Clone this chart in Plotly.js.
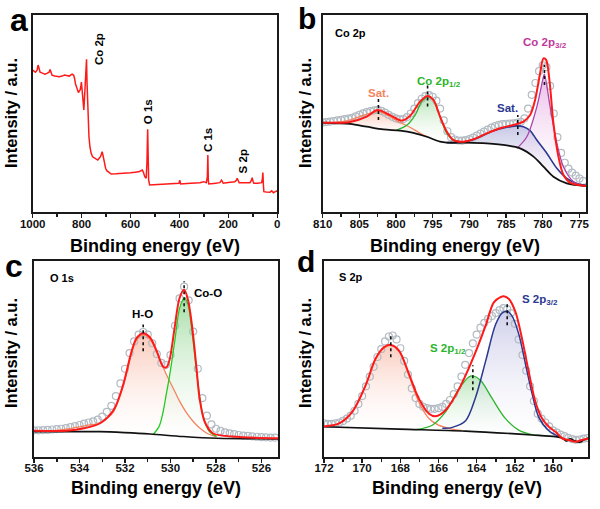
<!DOCTYPE html>
<html><head><meta charset="utf-8">
<script src="https://cdn.plot.ly/plotly-3.0.1.min.js"></script>
<style>html,body{margin:0;padding:0;background:#fff}#chart{width:600px;height:509px}</style>
</head><body><div id="chart"></div>
<script>
// ---------- Panel a: survey ----------
const aBE  = [1000,995,989,982,978,974,970,960,950,940,933,929,925,921,910,900,891,880,870,862,850,845,839,833,829,825,822,817,813,809,806,803,801,798,795,793,791,789,786,783,780,778,776,773,770,766,761,755,747,740,734,728,723,719,716,713,709,705,702,697,693,685,679,660,640,617,600,580,563,557,552,547,542,536,533,530,528,526,522,510,490,470,454,430,402,399,395,370,340,317,301,295,290,286,284,282,280,260,240,235,228,221,200,185,174,168,164,160,156,140,125,112,106,103,99,96,80,71,64,61,59,57,55,45,30,23,16,8,0];
const aInt = [72,71.5,71,72,74.6,73,71,70.5,70,70.5,71,72.4,70,69.5,69,68.8,68.7,69,69.5,69.3,69,69.5,70,69.5,67.9,65,63.6,62,60.6,61.5,62,64,66,62,58.5,54,51.8,56,62,68,77.5,66,56.9,46,38.2,33,29.8,28,27.2,26.8,26.4,27.2,28.1,29.5,30.6,29,26.4,23.5,22.2,21,20.5,19.8,19.3,19.4,19.5,19.6,19.9,20.2,20.5,21,21.3,20,17.9,17.1,25,42,20,16.2,13.7,13.9,14,14.1,14.2,14.4,14.6,16.2,14.2,14.5,14.7,14.9,15.4,15,14.9,18,28.9,16,14.2,14.5,14.8,14.9,16.2,14.6,15,15.2,15.4,16,17.1,16,14.9,14.9,15,14.9,16,17.4,15.5,14.6,14.6,14.6,14.9,17,20,14,10.3,10.1,10,10.8,9.8,10.3,10.8];
const aLabels = ['Co 2p','O 1s','C 1s','S 2p'];
const aLabelBE = [729,530.7,283.4,141.9];
const aLabelInt = [82.7,50.9,36.5,25.5];

// ---------- Panel b: Co 2p ----------
const bDataBE  = [810,809.5,809,808.5,808,807.5,807,806.5,806,805.5,805,804.5,804,803.5,803,802.5,802,801.5,801,800.5,800,799.5,799,798.5,798,797.5,797,796.5,796,795.5,795,794.5,794,793.5,793,792.5,792,791.5,791,790.5,790,789.5,789,788.5,788,787.5,787,786.5,786,785.5,785,784.5,784,783.5,783,782.5,782,781.5,781,780.5,780,779.5,779,778.5,778,777.5,777,776.5,776,775.5,775,774.5];
const bDataInt = [45.5,45.7,45.9,46.2,46.5,46.8,47.1,47.4,47.8,48.5,49.3,50.1,50.7,51.2,51.6,51.8,51.3,50.4,49.3,48.3,47.5,47,47.2,48.2,50,52.5,55.3,57.5,58.8,59.3,58.5,56.5,52.5,46.5,41,38,36.8,36.3,36.2,36.5,37,37.8,38.8,39.8,40.8,41.8,42.8,43.6,44.2,44.6,44.8,44.9,45,45.3,45.8,47.5,52.5,59.5,65.5,71.5,74.5,73.5,64,50,38,30,25,22,20,18.5,17,15.8];
const bFitBE  = [810,806.28,804,802.55,800.82,799.23,798.1,796.73,795.73,794.91,794,793.09,792.18,790.82,789.45,787.63,785.81,783.99,782.63,781.72,781.04,780.36,779.9,779.54,779.09,778.54,777.86,777.17,776.26,774.1];
const bFitInt = [45.3,45.7,48.4,51.8,49.2,46.4,48.7,56,58.9,56.9,48.4,40.8,36.5,35.7,36.9,39.9,42.5,44.2,45.9,49.2,56.9,70.4,78,77.2,67,45,28.1,18.8,14.9,13.2];
const bBgBE  = [810,806.28,804,801.73,799.46,797.64,795.82,794,793.09,790.36,787.63,784.9,783.08,781.26,779.9,778.54,776.72,774.1];
const bBgInt = [45.3,44.7,43.3,41.9,41.3,40.2,38.2,35.7,35.2,35.2,34.8,33.8,32.3,28.1,23,17.9,14.5,13.2];
const bSatABE   = [810,808,806.3,804.5,803.3,802.4,801.3,799.9,798.1,796.7,795.6];
const bSatAInt  = [45.3,45.6,46.7,49,50.5,51,49.5,46.3,43,40,38];
const bSatABase = [45.3,45,44.7,43.6,42.8,42.2,41.8,41.4,40.5,39.2,38];
const bP12BE   = [799.9,798.5,797.4,796.5,795.7,794.9,794,793.1,792.2,791.3];
const bP12Int  = [41.6,44.2,49.2,56,58.5,56.9,48.4,40,36.5,35.7];
const bP12Base = [41.4,40.9,40.2,39.2,38.1,36.8,35.7,35.2,35.2,35.2];
const bSatBBE   = [793.09,790.36,788.54,786.72,784.9,783.54,782.63,781.72,780.81,779.45,778.08,776.72,775.35,774.1];
const bSatBInt  = [35.2,35.7,38.2,41.3,43,43.7,43.3,41.3,36.5,29.8,22.2,17.1,14.5,13.5];
const bSatBBase = [35.2,35.2,35,34.6,33.8,32.8,31.4,29.5,26.5,21.5,16.8,14.5,13.6,13.2];
const bP32BE   = [783.53,782.17,780.8,779.9,779.77,779,778.08,777.18,775.8,774.1];
const bP32Int  = [32.3,38.2,53.5,68.7,70,53.5,34.9,23,15.4,13.2];
const bP32Base = [32.8,30.8,26.5,23,22.6,20,16.8,15,13.8,13.2];
const bDropBE = [802.4,795.7,783.4,779.77];
const bDropLo = [46.7,53.5,39.1,64.5];
const bDropHi = [57.7,65.3,49.2,74.6];

// ---------- Panel c: O 1s ----------
const cDataBE  = [536,535.8,535.6,535.4,535.2,535,534.8,534.6,534.4,534.2,534,533.8,533.6,533.4,533.2,533,532.8,532.6,532.4,532.2,532,531.8,531.6,531.4,531.2,531,530.8,530.6,530.4,530.2,530,529.8,529.6,529.4,529.2,529,528.8,528.6,528.4,528.2,528,527.8,527.6,527.4,527.2,527,526.8,526.6,526.4,526.2,526,525.8,525.6,525.4];
const cDataInt = [13.5,13.5,13.6,13.7,13.9,14.1,14.3,14.6,15.1,15.6,16.2,16.9,17.5,18.1,19,20.5,22.9,26,31,37.5,45,53,59,62.5,63.8,62.5,58,52.5,48,47,52,67,81,87,80,64,45,30,21,16.5,14.3,13.2,12.4,11.9,11.5,11.1,10.8,10.6,10.4,10.2,10,9.9,9.8,9.7];
const cFitBE  = [536,534.56,533.8,533.1,532.5,532.08,531.71,531.49,531.2,530.9,530.6,530.33,530.18,530.04,529.82,529.6,529.4,529.23,529.04,528.87,528.72,528.5,528.14,527.26,525.26];
const cFitInt = [13.3,13.3,14.5,17.1,23.9,36.8,53.9,60.7,63.2,61,53.9,46.2,45.7,49.6,65.8,81.2,85.4,80.3,65.8,47,29.9,18,12,10.3,9.4];
const cBgBE  = [536,534,533.1,532,530.9,529.44,527.97,525.26];
const cBgInt = [12.8,12.8,12.8,12.3,11.6,10.3,9.4,9.1];
const cHOBE   = [536,535,534.5,534,533.5,533.1,532.8,532.5,532.3,532.08,531.9,531.71,531.49,531.2,530.9,530.6,530.18,529.9,529.6,529.3,529,528.7,528.4,528];
const cHOInt  = [13.2,13.5,14.2,15.3,16.4,17,19.5,23.1,28.5,36,44,53,59.9,62.4,60,53.5,42,35.5,28.4,22.5,18,14.5,12,10.3];
const cHOBase = [12.8,12.8,12.8,12.8,12.8,12.8,12.7,12.6,12.5,12.4,12.3,12.2,12,11.8,11.6,11.3,10.9,10.6,10.4,10.1,9.9,9.7,9.5,9.4];
const cCoOBE   = [530.75,530.5,530.33,530.2,530.04,529.82,529.6,529.45,529.38,529.23,529.02,528.8,528.58,528.29,527.97];
const cCoOInt  = [11.5,15.5,22.6,31,41.4,58.5,76,80.3,81.2,77.8,60.7,38.5,21.4,12.8,10.3];
const cCoOBase = [11.4,11.2,11,10.9,10.8,10.6,10.4,10.3,10.2,10.1,9.9,9.8,9.6,9.5,9.4];
const cDropBE = [531.2,529.4];
const cDropLo = [53.9,73.9];
const cDropHi = [67.6,89.8];

// ---------- Panel d: S 2p ----------
const dDataBE  = [172,171.8,171.6,171.4,171.2,171,170.8,170.6,170.4,170.2,170,169.8,169.6,169.4,169.2,169,168.8,168.6,168.4,168.2,168,167.8,167.6,167.4,167.2,167,166.8,166.6,166.4,166.2,166,165.8,165.6,165.4,165.2,165,164.8,164.6,164.4,164.2,164,163.8,163.6,163.4,163.2,163,162.8,162.6,162.4,162.2,162,161.8,161.6,161.4,161.2,161,160.8,160.6,160.4,160.2,160,159.8,159.6,159.4,159.2,159,158.8,158.6,158.4,158.2];
const dDataInt = [17,16.8,16.8,17,17.5,18.3,19.5,21,23.5,27,31,36,41,46,51,55,59,61.5,62,60,55.5,49,42,35,30,27,25.5,24.8,24.5,24.5,24.8,25.5,27,29,32,36,41,47,53,58,62.5,66,68.5,70.5,72,73.5,75,76,75.5,73.5,68,60,52,44,36,28.5,22,19.5,17.5,15.5,13.5,12.3,11.3,10.5,9.6,9,8.6,8.8,9.2,9.5];
const dFitBE  = [172,171.21,170.52,169.82,169.3,168.86,168.51,168.07,167.55,167.03,166.5,166.15,165.63,165.1,164.58,164.06,163.53,163.1,162.75,162.58,162.31,161.96,161.62,161.27,160.92,160.57,160.22,159.87,159.5,159.17,158.82,158.5,158.15];
const dFitInt = [15.5,17,22.9,36.5,50.1,56,57.2,54.3,42.4,29.7,22,20.7,23.8,31.4,41.6,53.5,67.1,79,81.6,82.1,80.7,73.9,60.3,43.3,28,19.5,15.3,12.7,9.3,8.5,7.6,8.5,9.3];
const dBgBE  = [172,168.07,164.58,161.09,159.87,159.5,159.3,159.1,158.9,158.6,158.4,158.15];
const dBgInt = [15.3,14.1,13.1,11.1,10.2,9.5,8,9.2,8.3,7.4,8.5,9.5];
const dSABE   = [172,171.2,170.52,169.82,169.3,168.86,168.51,168.07,167.55,167.03,166.5,166,165.28,164.8];
const dSAInt  = [15.5,17,22.9,36.5,50,55.5,57,54,41.6,28,19.5,16.1,14.1,13.4];
const dSABase = [15.3,15.1,14.8,14.6,14.5,14.3,14.2,14.1,14,13.8,13.6,13.5,13.3,13.2];
const dS12BE   = [167.2,166.33,165.63,164.93,164.41,164.2,163.8,163.19,162.5,161.8,161.1,160.6];
const dS12Int  = [13.8,16.1,22.9,34.7,40.8,41.3,39.1,29.8,19.6,13.6,11.3,10.8];
const dS12Base = [13.8,13.6,13.4,13.2,13,12.9,12.7,12.4,12,11.5,11.1,10.7];
const dS32BE   = [165.8,165.28,164.58,164.06,163.53,163.01,162.66,162.4,162.14,161.79,161.44,161.09,160.74,160.22,159.7];
const dS32Int  = [14.5,15,18.4,30.3,48.9,67.6,73.6,74.4,71.9,62.6,47.3,32,20.1,13.3,10.4];
const dS32Base = [13.4,13.3,13.1,12.9,12.6,12.3,12.1,12,11.8,11.5,11.3,11.1,10.8,10.5,10.1];
const dDropBE = [168.5,164.2,162.4];
const dDropLo = [50.9,34,67.2];
const dDropHi = [62.9,46.8,79.1];

// ---------- styles ----------
const FONT = 'Liberation Sans, Arial, Helvetica, sans-serif';
const RED = '#ff1a1a', BLACK = '#111111', CIRC = '#b2bac2';
const ORANGE = '#f4845f', GREEN = '#2cb52c', NAVY = '#2b3990', PURPLE = '#a845a8';

const traces = [];
function area(xa, ya, x, y, base, lineColor, fillTop) {
  traces.push({x: x.concat(x.slice().reverse()), y: y.concat(base.slice().reverse()),
    xaxis: xa, yaxis: ya, mode: 'lines', line: {width: 0, color: 'rgba(0,0,0,0)'},
    fill: 'toself', fillcolor: fillTop,
    fillgradient: {type: 'vertical', colorscale: [[0, 'rgba(255,255,255,0.15)'], [1, fillTop]]},
    hoverinfo: 'skip'});
}
function compLine(xa, ya, x, y, c, w) {
  traces.push({x, y, xaxis: xa, yaxis: ya, mode: 'lines', line: {color: c, width: w || 1.5, shape: 'spline', smoothing: 0.9}});
}
function circles(xa, ya, x, y) {
  traces.push({x, y, xaxis: xa, yaxis: ya, mode: 'markers',
    marker: {symbol: 'circle-open', size: 7, color: CIRC, line: {width: 1.2, color: CIRC}}});
}
function drops(xa, ya, X, lo, hi) {
  const x = [], y = [];
  X.forEach((v, i) => { x.push(v, v, null); y.push(lo[i], hi[i], null); });
  traces.push({x, y, xaxis: xa, yaxis: ya, mode: 'lines', line: {color: BLACK, width: 1.6, dash: 'dot'}});
}

// panel a
traces.push({x: aBE, y: aInt, xaxis: 'x', yaxis: 'y', mode: 'lines', line: {color: RED, width: 1.5}});

// panel b
area('x2','y2', bSatABE, bSatAInt, bSatABase, ORANGE, 'rgba(246,160,130,0.55)');
area('x2','y2', bP12BE, bP12Int, bP12Base, GREEN, 'rgba(120,205,120,0.55)');
area('x2','y2', bSatBBE, bSatBInt, bSatBBase, NAVY, 'rgba(130,130,200,0.45)');
area('x2','y2', bP32BE, bP32Int, bP32Base, PURPLE, 'rgba(220,140,215,0.6)');
circles('x2','y2', bDataBE, bDataInt);
compLine('x2','y2', bSatABE, bSatAInt, ORANGE, 1.3);
compLine('x2','y2', bP12BE, bP12Int, GREEN, 1.3);
compLine('x2','y2', bSatBBE, bSatBInt, NAVY, 1.6);
compLine('x2','y2', bP32BE, bP32Int, PURPLE, 1.3);
compLine('x2','y2', bBgBE, bBgInt, BLACK, 1.8);
compLine('x2','y2', bFitBE, bFitInt, RED, 2);
drops('x2','y2', bDropBE, bDropLo, bDropHi);

// panel c
area('x3','y3', cHOBE, cHOInt, cHOBase, ORANGE, 'rgba(246,165,140,0.6)');
area('x3','y3', cCoOBE, cCoOInt, cCoOBase, GREEN, 'rgba(110,200,110,0.6)');
circles('x3','y3', cDataBE, cDataInt);
compLine('x3','y3', cHOBE, cHOInt, ORANGE, 1.3);
compLine('x3','y3', cCoOBE, cCoOInt, '#22cc22', 1.3);
compLine('x3','y3', cBgBE, cBgInt, BLACK, 1.6);
compLine('x3','y3', cFitBE, cFitInt, RED, 2);
drops('x3','y3', cDropBE, cDropLo, cDropHi);

// panel d
area('x4','y4', dSABE, dSAInt, dSABase, ORANGE, 'rgba(246,165,140,0.55)');
area('x4','y4', dS12BE, dS12Int, dS12Base, GREEN, 'rgba(120,205,120,0.5)');
area('x4','y4', dS32BE, dS32Int, dS32Base, NAVY, 'rgba(150,150,210,0.45)');
circles('x4','y4', dDataBE, dDataInt);
compLine('x4','y4', dSABE, dSAInt, ORANGE, 1.3);
compLine('x4','y4', dS12BE, dS12Int, GREEN, 1.3);
compLine('x4','y4', dS32BE, dS32Int, NAVY, 1.5);
compLine('x4','y4', dBgBE, dBgInt, BLACK, 1.6);
compLine('x4','y4', dFitBE, dFitInt, RED, 2);
drops('x4','y4', dDropBE, dDropLo, dDropHi);

function xax(domain, range, dtick, minorDtick, anchor) {
  return {domain, range, anchor, showgrid: false, zeroline: false, showline: true, mirror: true,
    linecolor: '#1a1a1a', linewidth: 2, ticks: 'outside', ticklen: 4, tickwidth: 1.5, tickcolor: '#1a1a1a',
    ticklabelstandoff: -4,
    dtick, tick0: 0, tickfont: {family: FONT, size: 11.5, weight: 'bold', color: '#111'},
    minor: {ticks: 'outside', ticklen: 3, tickwidth: 1.5, dtick: minorDtick, tickcolor: '#1a1a1a'}};
}
function yax(domain, anchor) {
  return {domain, range: [0, 100], anchor, showgrid: false, zeroline: false, showline: true, mirror: true,
    linecolor: '#1a1a1a', linewidth: 2, ticks: '', showticklabels: false, fixedrange: true};
}

const domTop = [0.5835, 0.9705], domBot = [0.1028, 0.4867];
const layout = {
  width: 600, height: 509, margin: {l: 0, r: 0, t: 0, b: 0},
  paper_bgcolor: '#fff', plot_bgcolor: '#fff', showlegend: false,
  font: {family: FONT, color: '#111'},
  xaxis:  xax([0.0545, 0.4622], [1000, 0], 200, 100, 'y'),
  yaxis:  yax(domTop, 'x'),
  xaxis2: xax([0.5378, 0.9767], [810, 774.1], 5, 2.5, 'y2'),
  yaxis2: yax(domTop, 'x2'),
  xaxis3: xax([0.0567, 0.4638], [536, 525.26], 2, 1, 'y3'),
  yaxis3: yax(domBot, 'x3'),
  xaxis4: xax([0.54, 0.9805], [172, 158.15], 2, 1, 'y4'),
  yaxis4: yax(domBot, 'x4'),
  annotations: []
};
const A = layout.annotations;
function pl(text, x, y, size, extra) {
  A.push(Object.assign({text, x: x / 600, y: 1 - y / 509, xref: 'paper', yref: 'paper', showarrow: false,
    xanchor: 'center', yanchor: 'middle', font: {family: FONT, size, weight: 'bold', color: '#000'}}, extra || {}));
}
// panel letters
pl('a', 19, 20, 32); pl('b', 307, 19, 30); pl('c', 14, 266, 32); pl('d', 306, 261, 30);
// axis titles
['Binding energy (eV)'].forEach(t => {
  pl(t, 155, 246, 18); pl(t, 455, 246, 18); pl(t, 156, 488, 18); pl(t, 457, 488, 18);
});
['Intensity / a.u.'].forEach(t => {
  pl(t, 11, 113, 16.5, {textangle: -90}); pl(t, 305, 113, 16.5, {textangle: -90});
  pl(t, 11, 353, 16.5, {textangle: -90}); pl(t, 305, 353, 16.5, {textangle: -90});
});
function dl(text, xr, yr, x, y, color, size, extra) {
  A.push(Object.assign({text, x, y, xref: xr, yref: yr, showarrow: false, xanchor: 'center', yanchor: 'middle',
    font: {family: FONT, size: size || 11, weight: 'bold', color}}, extra || {}));
}
aLabels.forEach((t, i) => dl(t, 'x', 'y', aLabelBE[i], aLabelInt[i], '#000', 11.5, {textangle: -90}));
dl('Co 2p', 'x2', 'y2', 808.6, 90.9, '#000', 11, {xanchor: 'left'});
dl('Sat.', 'x2', 'y2', 802.45, 60.6, ORANGE, 11.5);
dl('Co 2p<sub>1/2</sub>', 'x2', 'y2', 794.1, 66.1, GREEN, 11.5);
dl('Sat.', 'x2', 'y2', 784.8, 52.6, NAVY, 11.5);
dl('Co 2p<sub>3/2</sub>', 'x2', 'y2', 779.7, 85.6, '#c0399a', 11.5);
dl('O 1s', 'x3', 'y3', 535.38, 91.6, '#000', 11, {xanchor: 'left'});
dl('H-O', 'x3', 'y3', 531.22, 73, '#000', 11.5);
dl('Co-O', 'x3', 'y3', 528.34, 83.8, '#000', 11.5);
dl('S 2p', 'x4', 'y4', 171.32, 92.2, '#000', 11, {xanchor: 'left'});
dl('S 2p<sub>1/2</sub>', 'x4', 'y4', 165.5, 55.3, GREEN, 11.5);
dl('S 2p<sub>3/2</sub>', 'x4', 'y4', 160.69, 80, NAVY, 11.5);

Plotly.newPlot('chart', traces, layout, {staticPlot: true, displayModeBar: false});
</script></body></html>
